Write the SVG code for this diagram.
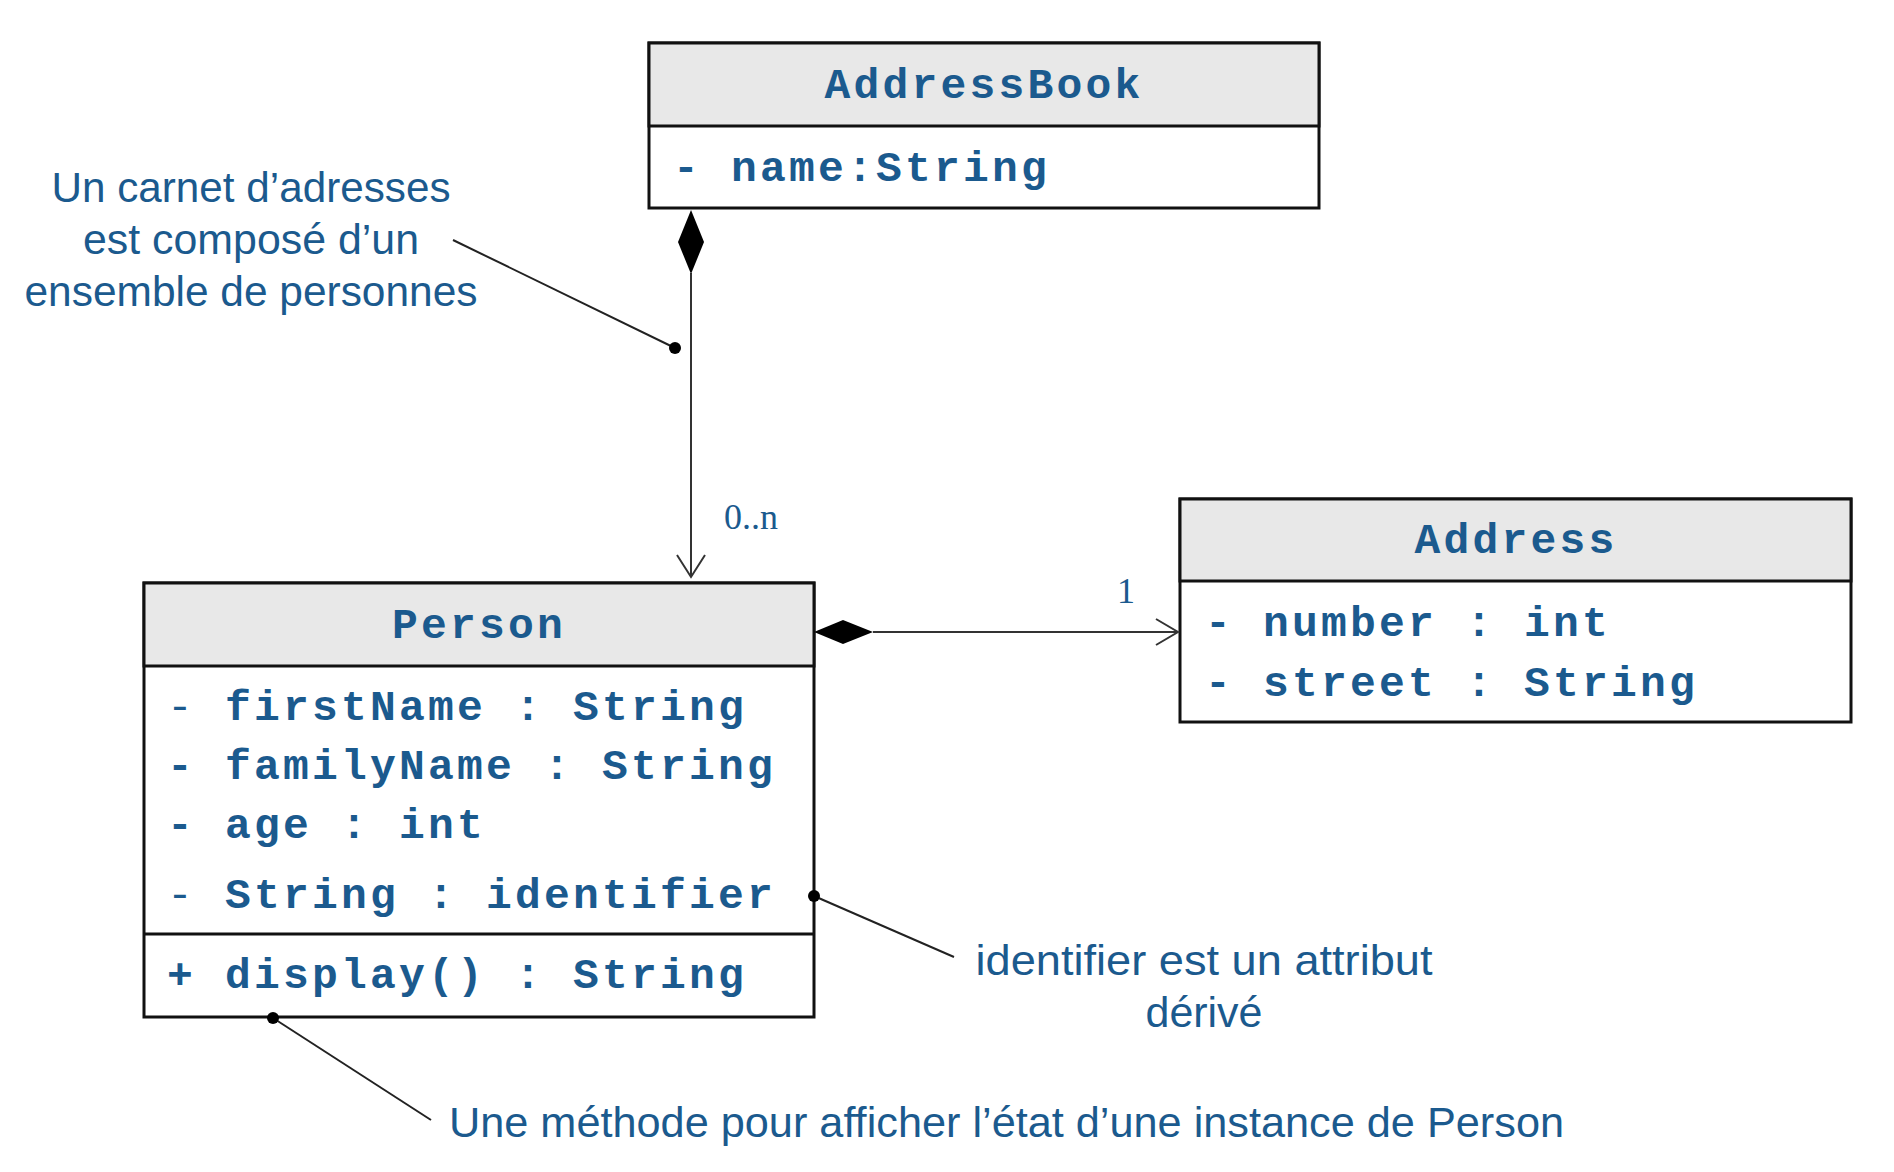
<svg xmlns="http://www.w3.org/2000/svg" width="1894" height="1172" viewBox="0 0 1894 1172">
<style>
.box{fill:#ffffff;stroke:#111111;stroke-width:3}
.hdr{fill:#e8e8e8;stroke:#111111;stroke-width:3}
.mono{font-family:"Liberation Mono","Courier New",monospace;font-weight:bold;font-size:43px;letter-spacing:3.2px;fill:#1b5a8e}
.thin{font-weight:normal}
.title{text-anchor:middle}
.note{font-family:"Liberation Sans",Arial,sans-serif;font-size:42px;fill:#1b5a8e}
.mult{font-family:"Liberation Serif","Times New Roman",serif;font-size:36px;fill:#1b5a8e}
.line{stroke:#333333;stroke-width:2;fill:none}
.lead{stroke:#222222;stroke-width:2;fill:none}
</style>
<rect width="1894" height="1172" fill="#ffffff"/>
<g id="AddressBook">
<rect class="box" x="649" y="43" width="670" height="165"/>
<rect class="hdr" x="649" y="43" width="670" height="83"/>
<text class="mono title" x="984" y="98">AddressBook</text>
<text class="mono" x="673" y="181">- name:String</text>
</g>
<g id="Person">
<rect class="box" x="144" y="583" width="670" height="434"/>
<rect class="hdr" x="144" y="583" width="670" height="83"/>
<line x1="144" y1="934" x2="814" y2="934" stroke="#111111" stroke-width="3"/>
<text class="mono title" x="479" y="638">Person</text>
<text class="mono" x="167" y="720"><tspan class="thin">-</tspan> firstName : String</text>
<text class="mono" x="167" y="779">- familyName : String</text>
<text class="mono" x="167" y="838">- age : int</text>
<text class="mono" x="167" y="908"><tspan class="thin">-</tspan> String : identifier</text>
<text class="mono" x="167" y="988">+ display() : String</text>
</g>
<g id="Address">
<rect class="box" x="1180" y="499" width="671" height="223"/>
<rect class="hdr" x="1180" y="499" width="671" height="82"/>
<text class="mono title" x="1516" y="553">Address</text>
<text class="mono" x="1205" y="636">- number : int</text>
<text class="mono" x="1205" y="696">- street : String</text>
</g>
<g id="note-carnet">
<text class="note" text-anchor="middle" x="251" y="202" textLength="399" lengthAdjust="spacingAndGlyphs">Un carnet d’adresses</text>
<text class="note" text-anchor="middle" x="251" y="254" textLength="336" lengthAdjust="spacingAndGlyphs">est composé d’un</text>
<text class="note" text-anchor="middle" x="251" y="306" textLength="453" lengthAdjust="spacingAndGlyphs">ensemble de personnes</text>
</g>
<g id="note-identifier">
<text class="note" text-anchor="middle" x="1204" y="975" textLength="457" lengthAdjust="spacingAndGlyphs">identifier est un attribut</text>
<text class="note" text-anchor="middle" x="1204" y="1027" textLength="117" lengthAdjust="spacingAndGlyphs">dérivé</text>
</g>
<g id="note-display">
<text class="note" x="449" y="1137" textLength="1115" lengthAdjust="spacingAndGlyphs">Une méthode pour afficher l’état d’une instance de Person</text>
</g>
<g id="connectors">
<line class="line" x1="691" y1="273" x2="691" y2="577"/>
<polygon points="691,210 704,242 691,274 678,242" fill="#000000"/>
<polyline class="line" points="677,555 691,577 705,555"/>
<line class="line" x1="873" y1="632" x2="1178" y2="632"/>
<polygon points="814,632 843,620 873,632 843,644" fill="#000000"/>
<polyline class="line" points="1156,619 1178,632 1156,645"/>
<text class="mult" x="724" y="529">0..n</text>
<text class="mult" x="1117" y="603">1</text>
<line class="lead" x1="453" y1="240" x2="675" y2="348"/>
<circle cx="675" cy="348" r="6" fill="#000000"/>
<line class="lead" x1="814" y1="896" x2="954" y2="957"/>
<circle cx="814" cy="896" r="6" fill="#000000"/>
<line class="lead" x1="273" y1="1018" x2="431" y2="1120"/>
<circle cx="273" cy="1018" r="6" fill="#000000"/>
</g>
</svg>
